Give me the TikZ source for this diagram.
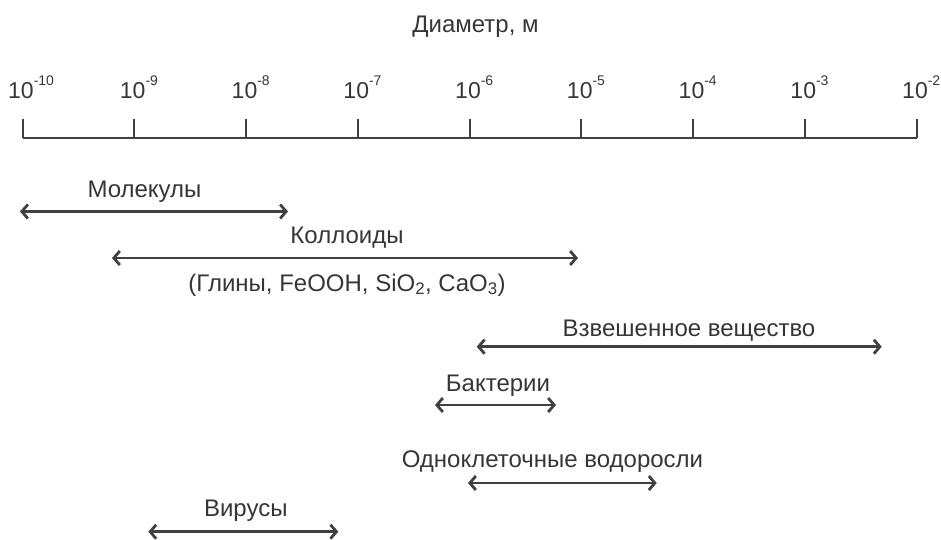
\documentclass[tikz,border=0pt]{standalone}
\usepackage{fontspec}
\setmainfont{Liberation Sans}
\usepackage{xcolor}
\usetikzlibrary{arrows.meta,positioning}
\definecolor{ink}{HTML}{404040}
\definecolor{textink}{HTML}{363636}
\newcommand{\tenpow}[1]{10\rlap{\raisebox{13pt}{\fontsize{14}{16}\selectfont#1}}}

\begin{document}
\begin{tikzpicture}[x=1pt,y=-1pt,
    lbl/.style={text=textink,font=\fontsize{24}{28}\selectfont,inner sep=0pt,anchor=base},
    ticklbl/.style={lbl,font=\fontsize{23}{27}\selectfont},
    axisline/.style={draw=ink,line width=2pt},
    sizespan/.style={draw=ink,line width=2.8pt,
      {Straight Barb[length=6pt,width=14pt]}-{Straight Barb[length=6pt,width=14pt]}}]
  \useasboundingbox (0,0) rectangle (941,539);

  % scale
  \node[lbl] (title) at (475.5,32) {Диаметр, м};
  \coordinate (axl) at (22.7,138);
  \coordinate (axr) at (916.7,138);
  \draw[axisline] (axl) -- (axr);
  \foreach \e [count=\i from 0] in {-10,-9,-8,-7,-6,-5,-4,-3,-2} {
    \coordinate (tick\i) at (22.7+111.75*\i,138);
    \draw[axisline] (tick\i) -- ++(0,-19);
    \node[ticklbl] (exp\i) at (21+111.75*\i,98) {\tenpow{\e}};
  }

  % ranges
  \node[lbl] (mol) at (144.5,197) {Молекулы};
  \coordinate (mol-l) at (20,211.5);
  \coordinate (mol-r) at (288,211.5);
  \draw[sizespan] (mol-l) -- (mol-r);

  \node[lbl] (col) at (347,243) {Коллоиды};
  \node[lbl] (col-ex) at (347,291) {(Глины, FeOOH, SiO\textsubscript{2}, CaO\textsubscript{3})};
  \coordinate (col-l) at (112,258);
  \coordinate (col-r) at (578,258);
  \draw[sizespan] (col-l) -- (col-r);

  \node[lbl] (susp) at (689,336.7) {Взвешенное вещество};
  \coordinate (susp-l) at (476.7,346.7);
  \coordinate (susp-r) at (881.7,346.7);
  \draw[sizespan] (susp-l) -- (susp-r);

  \node[lbl] (bact) at (498,391.7) {Бактерии};
  \coordinate (bact-l) at (435,405);
  \coordinate (bact-r) at (556,405);
  \draw[sizespan] (bact-l) -- (bact-r);

  \node[lbl] (alg) at (552.5,467) {Одноклеточные водоросли};
  \coordinate (alg-l) at (468,483);
  \coordinate (alg-r) at (656.7,483);
  \draw[sizespan] (alg-l) -- (alg-r);

  \node[lbl] (vir) at (245.8,516.7) {Вирусы};
  \coordinate (vir-l) at (148.3,531.7);
  \coordinate (vir-r) at (338.3,531.7);
  \draw[sizespan] (vir-l) -- (vir-r);
\end{tikzpicture}
\end{document}
